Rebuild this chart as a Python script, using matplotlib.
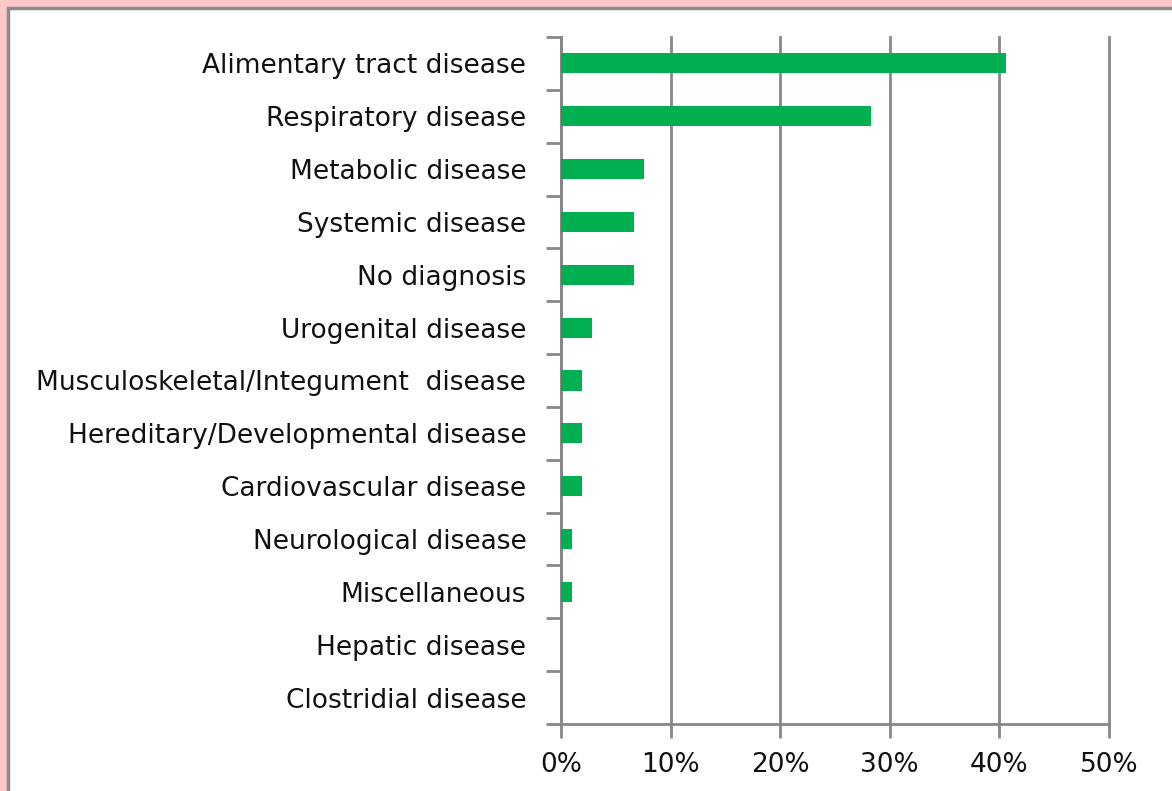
import numpy as np
import matplotlib.pyplot as plt
from matplotlib.patches import Rectangle
from matplotlib.ticker import FuncFormatter

# Données (pourcentage des cas)
categories = [
    "Alimentary tract disease",
    "Respiratory disease",
    "Metabolic disease",
    "Systemic disease",
    "No diagnosis",
    "Urogenital disease",
    "Musculoskeletal/Integument  disease",
    "Hereditary/Developmental disease",
    "Cardiovascular disease",
    "Neurological disease",
    "Miscellaneous",
    "Hepatic disease",
    "Clostridial disease",
]
values = [40.6, 28.3, 7.6, 6.7, 6.7, 2.8, 1.9, 1.9, 1.9, 1.0, 1.0, 0.0, 0.0]
x_ticks = [0, 10, 20, 30, 40, 50]

plt.rcParams['font.family'] = ['DejaVu Sans']

fig = plt.figure(figsize=(11.72, 7.91), dpi=100)
fig.patch.set_facecolor('#FFC9C9')

# Panneau blanc avec bordure grise
panel = Rectangle((8 / 1172, -0.1), 1.2, 1 - 8 / 791 + 0.1, transform=fig.transFigure,
                  facecolor='white', edgecolor='#8C8C8C', linewidth=2.5, zorder=-10)
fig.patches.append(panel)

ax = fig.add_axes([561 / 1172, 1 - 724 / 791, (1109 - 561) / 1172, (724 - 37) / 791])
ax.set_facecolor('none')

y = np.arange(len(categories))
ax.barh(y, values, height=0.38, color='#00B050', linewidth=0, zorder=3)

ax.set_xlim(0, 50)
ax.set_ylim(len(categories) - 0.5, -0.5)
ax.set_xticks(x_ticks)
ax.xaxis.set_major_formatter(FuncFormatter(lambda v, p: f"{v:.0f}%"))
ax.set_yticks(y)
ax.set_yticklabels(categories)
ax.set_yticks(np.arange(len(categories) + 1) - 0.5, minor=True)

ax.grid(axis='x', color='#878787', linewidth=2, zorder=1)
for line in ax.get_xgridlines():
    line.set_clip_on(False)
for s in ['top', 'right']:
    ax.spines[s].set_visible(False)
for s in ['left', 'bottom']:
    ax.spines[s].set_color('#878787')
    ax.spines[s].set_linewidth(2)

ax.tick_params(axis='y', which='major', length=0, pad=25, labelsize=19, labelcolor='#111111')
ax.tick_params(axis='y', which='minor', length=11, width=2, color='#878787')
ax.tick_params(axis='x', which='major', length=10, width=2, color='#878787', pad=10,
               labelsize=19, labelcolor='#111111')

fig.savefig('out.png', dpi=100, facecolor=fig.get_facecolor())
